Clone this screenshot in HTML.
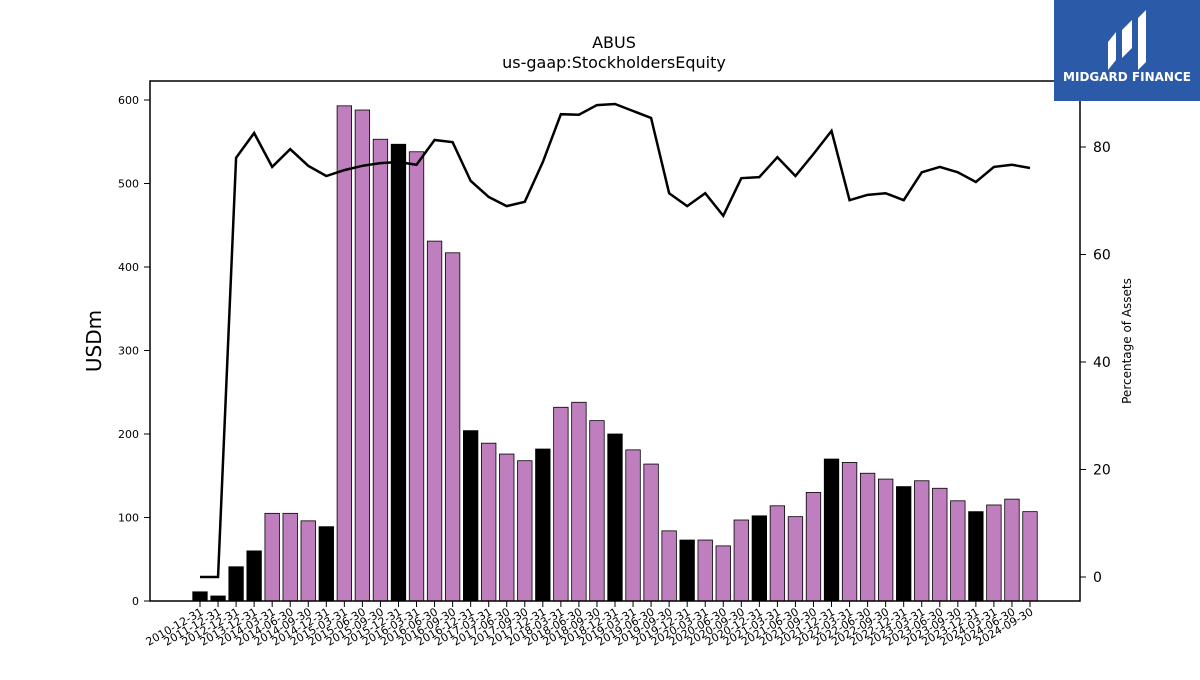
<!DOCTYPE html>
<html><head><meta charset="utf-8"><style>
body{margin:0;background:#fff;}
svg text{font-family:"DejaVu Sans","Liberation Sans",sans-serif;}
</style></head><body>
<svg id="c" width="1200" height="675" xmlns="http://www.w3.org/2000/svg">
<text x="614" y="48" text-anchor="middle" font-size="16">ABUS</text>
<text x="614" y="68" text-anchor="middle" font-size="16">us-gaap:StockholdersEquity</text>
<text transform="translate(101,341) rotate(-90)" text-anchor="middle" font-size="20">USDm</text>
<text transform="translate(1131,341) rotate(-90)" text-anchor="middle" font-size="12">Percentage of Assets</text>
<g id="bars"></g>
<g id="line"></g>
<g id="axes"></g>
<rect x="150" y="81" width="930" height="520" fill="none" stroke="#000" stroke-width="1.5"/>
<g>
<rect x="1054" y="0" width="146" height="101" fill="#2b5aa8"/>
<path d="M1108 70 L1108 42 L1116 32 L1116 60 Z M1122 58 L1122 30 L1132 20 L1132 48 Z M1138 70 L1138 18 L1146 10 L1146 62 Z" fill="#fff"/>
<text x="1127" y="81" text-anchor="middle" font-size="12" font-weight="bold" fill="#fff">MIDGARD FINANCE</text>
</g>
</svg>
<script>
const categories=["2010-12-31","2011-12-31","2012-12-31","2013-12-31","2014-03-31","2014-06-30","2014-09-30","2014-12-31","2015-03-31","2015-06-30","2015-09-30","2015-12-31","2016-03-31","2016-06-30","2016-09-30","2016-12-31","2017-03-31","2017-06-30","2017-09-30","2017-12-31","2018-03-31","2018-06-30","2018-09-30","2018-12-31","2019-03-31","2019-06-30","2019-09-30","2019-12-31","2020-03-31","2020-06-30","2020-09-30","2020-12-31","2021-03-31","2021-06-30","2021-09-30","2021-12-31","2022-03-31","2022-06-30","2022-09-30","2022-12-31","2023-03-31","2023-06-30","2023-09-30","2023-12-31","2024-03-31","2024-06-30","2024-09-30"];
const equity=[11,6,41,60,105,105,96,89,593,588,553,547,538,431,417,204,189,176,168,182,232,238,216,200,181,164,84,73,73,66,97,102,114,101,130,170,166,153,146,137,144,135,120,107,115,122,107];
const pctAssets=[0,0,78,82.6,76.3,79.6,76.5,74.6,75.7,76.5,77,77.2,76.7,81.3,80.9,73.7,70.7,69,69.8,77.2,86.1,86,87.8,88,86.7,85.4,71.4,69,71.4,67.2,74.2,74.4,78.1,74.6,78.7,83,70.1,71.1,71.4,70.1,75.3,76.3,75.3,73.5,76.3,76.7,76.1];
const leftTicks=[0,100,200,300,400,500,600];
const rightTicks=[0,20,40,60,80];
const NS="http://www.w3.org/2000/svg";
const xPos=i=>200+i*(830/(categories.length-1));
const yL=v=>601-v*(501/600);
const yR=v=>577-v*(430/80);
function mk(t,a,p){const e=document.createElementNS(NS,t);for(const k in a)e.setAttribute(k,a[k]);p.appendChild(e);return e;}
const bars=document.getElementById('bars'),line=document.getElementById('line'),axes=document.getElementById('axes');
const bw=14.5;
equity.forEach((v,i)=>{
  const dec=categories[i].endsWith('12-31');
  const r=mk('rect',{x:xPos(i)-bw/2,y:yL(v),width:bw,height:yL(0)-yL(v),fill:dec?'#000':'#bf7fbf',stroke:'#000','stroke-width':0.8},bars);
  
  
  mk('line',{x1:xPos(i),x2:xPos(i),y1:601,y2:607,stroke:'#000','stroke-width':1},axes);
  const t=mk('text',{x:0,y:0,'font-size':11,'text-anchor':'end',transform:`translate(${xPos(i)+4},${614}) rotate(-30)`},axes);
  t.textContent=categories[i];
  
  
});
const p=mk('polyline',{points:pctAssets.map((v,i)=>xPos(i)+','+yR(v)).join(' '),fill:'none',stroke:'#000','stroke-width':2.5},line);


leftTicks.forEach(v=>{
  mk('line',{x1:144,x2:150,y1:yL(v),y2:yL(v),stroke:'#000'},axes);
  const t=mk('text',{x:139,y:yL(v)+4,'font-size':11,'text-anchor':'end'},axes);
  t.textContent=v;
  
  
});
rightTicks.forEach(v=>{
  mk('line',{x1:1080,x2:1086,y1:yR(v),y2:yR(v),stroke:'#000'},axes);
  const t=mk('text',{x:1093,y:yR(v)+5,'font-size':14},axes);
  t.textContent=v;
  
  
});
</script>
</body></html>
